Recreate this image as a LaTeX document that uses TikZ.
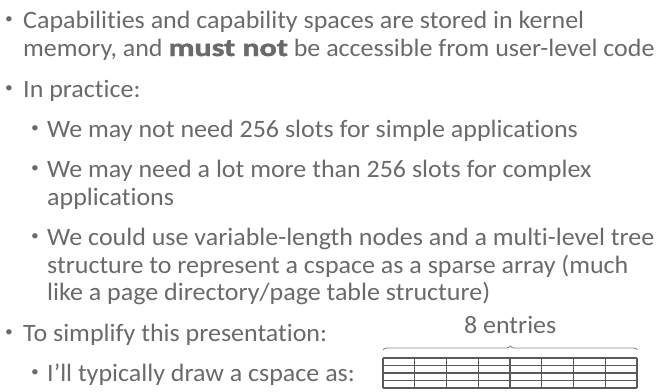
\documentclass[tikz,border=0pt]{standalone}
\usepackage{fontspec}
\setmainfont[FakeStretch=1.04, Ligatures={NoCommon},
  BoldFeatures={FakeStretch=1.28, FakeBold=1.8}]{Carlito}
\usetikzlibrary{calc,decorations.pathreplacing}
\definecolor{bodygray}{HTML}{6A6A6A}
\definecolor{gridgray}{HTML}{5A5A5A}
\definecolor{bracegray}{HTML}{8C8C8C}
\begin{document}
\begin{tikzpicture}[x=1pt,y=-1pt,
  txt/.style={anchor=base west, inner sep=0pt, text=bodygray,
    font=\fontsize{25}{28}\selectfont},
  bul/.style={anchor=base west, inner sep=0pt, text=bodygray,
    font=\fontsize{15}{15}\selectfont},
  gridline/.style={draw=gridgray, line width=1.3pt},
  bracestyle/.style={draw=bracegray, line width=0.9pt,
    decorate, decoration={brace, amplitude=4pt}}]
\useasboundingbox (0,0) rectangle (661,391);

% first-level bullets
\node[bul] (b1) at (5,25) {\raisebox{2pt}{•}};
\node[bul] (b2) at (5,94) {\raisebox{2pt}{•}};
\node[bul] (b6) at (5,338) {\raisebox{2pt}{•}};
% second-level bullets
\node[bul] (b3) at (31,134) {\raisebox{2pt}{•}};
\node[bul] (b4) at (31,174) {\raisebox{2pt}{•}};
\node[bul] (b5) at (31,242) {\raisebox{2pt}{•}};
\node[bul] (b7) at (31,378) {\raisebox{2pt}{•}};

\node[txt] (l1) at (23,28) {Capabilities and capability spaces are stored in kernel};
\node[txt] (l2) at (23,56) {memory, and \textbf{must not} be accessible from user-level code};
\node[txt] (l3) at (23,97) {In practice:};
\node[txt] (l4) at (47,137) {We may not need 256 slots for simple applications};
\node[txt] (l5) at (47,177) {We may need a lot more than 256 slots for complex};
\node[txt] (l6) at (47,205) {applications};
\node[txt] (l7) at (47,245) {We could use variable-length nodes and a multi-level tree};
\node[txt] (l8) at (47,273) {structure to represent a cspace as a sparse array (much};
\node[txt] (l9) at (47,300) {like a page directory/page table structure)};
\node[txt] (l10) at (23,341) {To simplify this presentation:};
\node[txt] (l11) at (47,381) {I’ll typically draw a cspace as:};

% the cspace: 8 columns, 4 rows
\node[minimum width=254pt, minimum height=30pt, inner sep=0pt,
      anchor=north west] (cspace) at (383,358) {};
\foreach \i in {0,...,8}
  \draw[gridline] ($(cspace.north west)+(\i*31.75,0)$) -- ($(cspace.south west)+(\i*31.75,0)$);
\foreach \j in {0,...,4}
  \draw[gridline] ($(cspace.north west)+(0,\j*7.5)$) -- ($(cspace.north east)+(0,\j*7.5)$);

\coordinate (bl) at ($(cspace.north west)+(0,-8)$);
\coordinate (br) at ($(cspace.north east)+(0,-8)$);
\draw[bracestyle] (bl) -- (br);
\node[txt, anchor=base] (lbl) at ($(cspace.north)+(0,-25)$) {8 entries};
\end{tikzpicture}
\end{document}
